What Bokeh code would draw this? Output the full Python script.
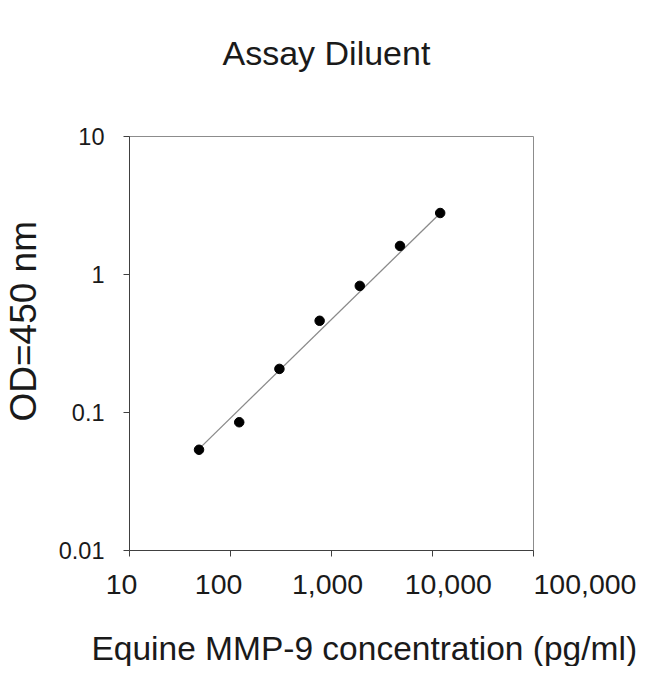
from bokeh.plotting import figure
from bokeh.models import FixedTicker, Title, ColumnDataSource
from bokeh.embed import file_html
from bokeh.resources import INLINE

# data
conc = [48.8, 122, 305, 763, 1906, 4766, 11914]
od = [0.0537, 0.085, 0.207, 0.462, 0.827, 1.61, 2.79]
fit_conc = [48.8, 11914]
fit_od = [0.0545, 2.78]

x_ticks = [10, 100, 1000, 10000, 100000]
x_tick_labels = ["10", "100", "1,000", "10,000", "100,000"]
y_ticks = [0.01, 0.1, 1, 10]
y_tick_labels = ["0.01", "0.1", "1", "10"]

title_text = "Assay Diluent"
x_label_text = "Equine MMP-9 concentration (pg/ml)"
y_label_text = "OD=450 nm"

# style: the reference's x tick labels sit a little off their ticks
# (negative = nudged left, positive = nudged right), in no-break spaces
x_label_nudge = [-2, -3, -1, 4, 13]

FONT = "Liberation Sans"
TXT = "#1a1a1a"
NBSP = "\u00a0"

p = figure(width=642, height=666, x_axis_type="log", y_axis_type="log",
           x_range=(x_ticks[0], x_ticks[-1]), y_range=(y_ticks[0], y_ticks[-1]),
           output_backend="svg", toolbar_location=None,
           min_border_left=128, min_border_right=109,
           min_border_top=136, min_border_bottom=115)

p.background_fill_color = "white"
p.border_fill_color = "white"
p.outline_line_color = "#8c8c8c"
p.outline_line_width = 1
p.grid.visible = False
p.title.text = ""
p.title.standoff = 0


def nudged(label, n):
    return NBSP * n + label if n > 0 else label + NBSP * (-n)


x_overrides = {t: nudged(l, n) for t, l, n in zip(x_ticks, x_tick_labels, x_label_nudge)}
y_overrides = {t: l for t, l in zip(y_ticks, y_tick_labels)}

for ax, ticks, overrides, fs, so in ((p.xaxis[0], x_ticks, x_overrides, "28.5px", 11),
                                     (p.yaxis[0], y_ticks, y_overrides, "23.5px", 19)):
    ax.ticker = FixedTicker(ticks=ticks, minor_ticks=[])
    ax.major_label_overrides = overrides
    ax.major_label_text_font = FONT
    ax.major_label_text_font_size = fs
    ax.major_label_text_color = TXT
    ax.axis_line_color = "#404040"
    ax.major_tick_line_color = "#404040"
    ax.major_tick_in = 0
    ax.major_tick_out = 6
    ax.minor_tick_line_color = None
    ax.major_label_standoff = so

src = ColumnDataSource(dict(x=conc, y=od))
fit = ColumnDataSource(dict(x=fit_conc, y=fit_od))
p.line("x", "y", source=fit, line_color="#8a8a8a", line_width=1.3)
p.scatter("x", "y", source=src, size=9.5, fill_color="black", line_color="black")


def spacer(px):
    return Title(text=" ", text_font_size="1px", standoff=px)


# top: spacer next to the frame, then the title
p.add_layout(spacer(62), "above")
p.add_layout(Title(text=title_text, align="left", offset=93, standoff=0,
                   text_font=FONT, text_font_size="34px", text_font_style="normal",
                   text_color=TXT), "above")

# bottom: axis, spacer, x label
p.add_layout(spacer(22), "below")
p.add_layout(Title(text=x_label_text, align="left", offset=-38, standoff=0,
                   text_font=FONT, text_font_size="33.5px", text_font_style="normal",
                   text_color=TXT), "below")

# left: axis, spacer, y label
p.add_layout(spacer(9), "left")
p.add_layout(Title(text=y_label_text, align="left", offset=129, standoff=0,
                   text_font=FONT, text_font_size="37px", text_font_style="normal",
                   text_color=TXT), "left")

open("out.html", "w").write(file_html(p, INLINE))
